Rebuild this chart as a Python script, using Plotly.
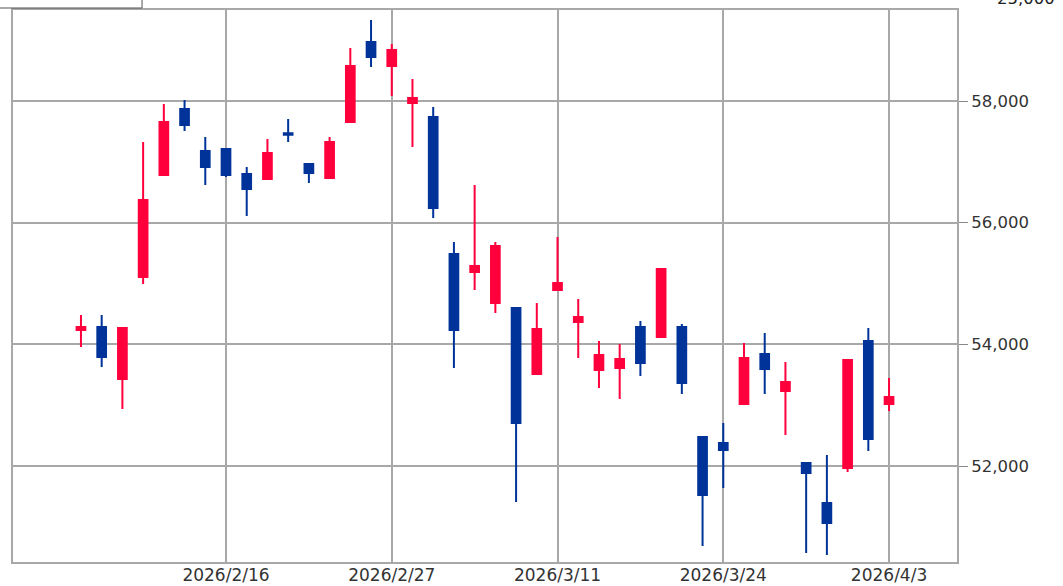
"""Daily candlestick chart, Feb-Apr 2026."""

import plotly.graph_objects as go

# trading days (Feb 11, Feb 23 and Mar 20 are holidays)
dates = [
    "2026-02-04", "2026-02-05", "2026-02-06", "2026-02-09", "2026-02-10",
    "2026-02-12", "2026-02-13", "2026-02-16", "2026-02-17", "2026-02-18",
    "2026-02-19", "2026-02-20", "2026-02-24", "2026-02-25", "2026-02-26",
    "2026-02-27", "2026-03-02", "2026-03-03", "2026-03-04", "2026-03-05",
    "2026-03-06", "2026-03-09", "2026-03-10", "2026-03-11", "2026-03-12",
    "2026-03-13", "2026-03-16", "2026-03-17", "2026-03-18", "2026-03-19",
    "2026-03-23", "2026-03-24", "2026-03-25", "2026-03-26", "2026-03-27",
    "2026-03-30", "2026-03-31", "2026-04-01", "2026-04-02", "2026-04-03",
]
open_ = [
    54235, 54285, 53430, 55107, 56783, 57868, 57178, 57211, 56800, 56718,
    57470, 56964, 56734, 57655, 58970, 58575, 57967, 57737, 55485, 55189,
    54679, 54597, 53512, 54893, 54367, 53578, 53611, 54285, 54120, 54285,
    52476, 52378, 53019, 53841, 53232, 52049, 51391, 51966, 54054, 53019,
]
high = [
    54482, 54482, 54270, 57326, 57951, 58016, 57408, 57220, 56915, 57375,
    57704, 56970, 57408, 58871, 59332, 58937, 58362, 57901, 55682, 56619,
    55682, 54610, 54679, 55764, 54745, 54054, 54005, 54383, 55250, 54334,
    52490, 52706, 54022, 54186, 53709, 52060, 52180, 53750, 54268, 53446,
]
low = [
    53956, 53627, 52937, 54992, 56767, 57507, 56619, 56750, 56109, 56701,
    57326, 56652, 56718, 57638, 58559, 58082, 57244, 56076, 53611, 54893,
    54515, 51408, 53495, 54876, 53775, 53282, 53101, 53479, 54105, 53183,
    50684, 51638, 53010, 53183, 52509, 50569, 50536, 51901, 52246, 52904,
]
close = [
    54285, 53791, 54268, 56372, 57655, 57605, 56915, 56783, 56553, 57145,
    57445, 56816, 57326, 58575, 58723, 58838, 58049, 56241, 54235, 55287,
    55616, 52706, 54252, 55008, 54449, 53824, 53759, 53693, 55238, 53364,
    51523, 52263, 53775, 53594, 53381, 51884, 51062, 53742, 52443, 53134,
]

tick_dates = ["2026-02-16", "2026-02-27", "2026-03-11", "2026-03-24", "2026-04-03"]
tick_labels = ["2026/2/16", "2026/2/27", "2026/3/11", "2026/3/24", "2026/4/3"]
price_ticks = [52000, 54000, 56000, 58000]

RED = "#ff003c"
BLUE = "#003399"
GRID = "#a8a8a8"

fig = go.Figure()

fig.add_trace(
    go.Candlestick(
        x=dates,
        open=open_,
        high=high,
        low=low,
        close=close,
        increasing={"line": {"color": RED, "width": 2}, "fillcolor": RED},
        decreasing={"line": {"color": BLUE, "width": 2}, "fillcolor": BLUE},
        showlegend=False,
    )
)

fig.update_layout(
    width=1063,
    height=586,
    margin={"l": 13, "r": 106, "t": 10, "b": 24},
    paper_bgcolor="white",
    plot_bgcolor="white",
    boxgap=0.4,
    font={"family": "DejaVu Sans", "color": "#333333"},
    xaxis={
        "type": "category",
        "range": [-3.28, 42.28],
        "rangeslider": {"visible": False},
        "tickvals": tick_dates,
        "ticktext": tick_labels,
        "tickfont": {"size": 17},
        "ticklabelstandoff": -3,
        "automargin": False,
        "showgrid": True,
        "gridcolor": GRID,
        "gridwidth": 2,
        "showline": True,
        "linecolor": GRID,
        "linewidth": 2,
        "mirror": True,
        "ticks": "",
    },
    yaxis={
        "side": "right",
        "range": [50422, 59496],
        "tickvals": price_ticks,
        "tickformat": ",d",
        "tickfont": {"size": 16.5},
        "automargin": False,
        "showgrid": True,
        "gridcolor": GRID,
        "gridwidth": 2,
        "showline": True,
        "linecolor": GRID,
        "linewidth": 2,
        "mirror": True,
        "ticks": "outside",
        "ticklen": 9,
        "tickwidth": 1,
        "tickcolor": "#888888",
        "zeroline": False,
    },
)

# cut-off box at the top left and a clipped label at the top right
fig.add_shape(
    type="rect", xref="paper", yref="paper",
    x0=-0.016, x1=0.1367, y0=1.0036, y1=1.03,
    line={"color": "#555555", "width": 1},
)
fig.add_annotation(
    text="25,000", xref="paper", yref="paper",
    x=1.0487, y=1.0, xanchor="left", yanchor="bottom", xshift=-8,
    showarrow=False, font={"size": 16.5, "color": "#222222"},
)

# drop the default 8px page margin so the figure fills the window
fig.write_html(
    "out.html",
    config={"displayModeBar": False},
    post_script="document.body.style.margin = '0';",
)
